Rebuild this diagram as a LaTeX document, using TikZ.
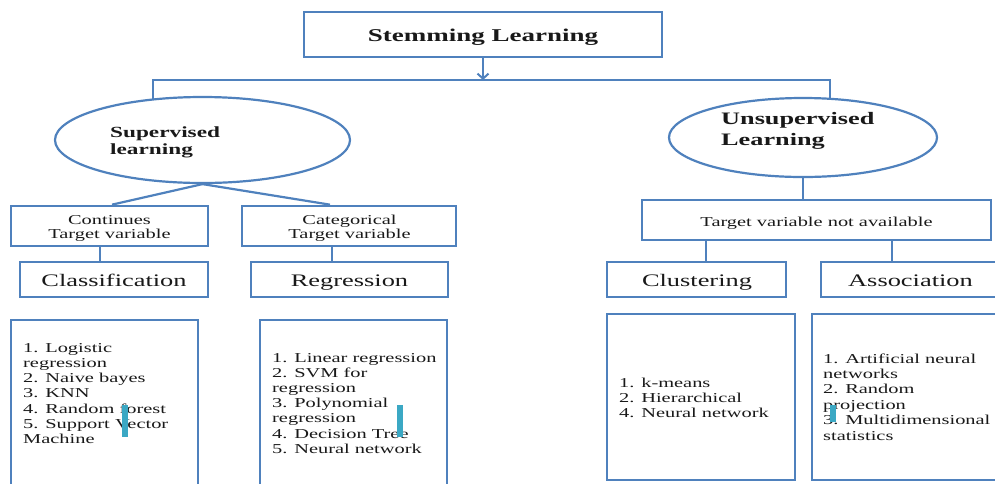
\documentclass[tikz,border=0pt]{standalone}
\usepackage{fontspec}
\setmainfont{Liberation Serif}[FakeStretch=1.5]
\usetikzlibrary{shapes.geometric,arrows.meta}
\definecolor{lineblue}{RGB}{79,129,189}
\definecolor{barteal}{RGB}{59,168,196}
\definecolor{txt}{RGB}{25,25,25}
\begin{document}
\begin{tikzpicture}[x=1pt,y=-1pt,
  box/.style={draw=lineblue,line width=2.7pt,fill=white,inner sep=0pt},
  oval/.style={draw=lineblue,line width=2.2pt,fill=white,ellipse,inner sep=0pt},
  conn/.style={draw=lineblue,line width=2.2pt},
  lbl/.style={inner sep=0pt,anchor=base,text=txt},
  lblw/.style={inner sep=0pt,anchor=base west,text=txt},
  headfont/.style={font=\fontsize{17.6}{20}\selectfont},
  smallfont/.style={font=\fontsize{13.6}{14.3}\selectfont}
]
\useasboundingbox (0,0) rectangle (995,483);
\clip (0,0) rectangle (995,483);

% boxes and ellipses
\node[box,minimum width=358pt,minimum height=45pt] (stem) at (483,34.5) {};
\node[oval,minimum width=295pt,minimum height=86pt] (sup) at (202.5,140) {};
\node[oval,minimum width=268pt,minimum height=79pt] (uns) at (803,137.5) {};
\node[box,minimum width=197pt,minimum height=40pt] (cont) at (109.5,226) {};
\node[box,minimum width=214pt,minimum height=40pt] (cat) at (349,226) {};
\node[box,minimum width=349pt,minimum height=40pt] (target) at (816.5,220) {};
\node[box,minimum width=188pt,minimum height=35pt] (class) at (114,279.5) {};
\node[box,minimum width=197pt,minimum height=35pt] (regr) at (349.5,279.5) {};
\node[box,minimum width=179pt,minimum height=35pt] (clus) at (696.5,279.5) {};
\node[box,minimum width=179pt,minimum height=35pt] (assoc) at (910.5,279.5) {};
\node[box,minimum width=187pt,minimum height=190pt] (list1) at (104.5,415) {};
\node[box,minimum width=187pt,minimum height=190pt] (list2) at (353.5,415) {};
\node[box,minimum width=188pt,minimum height=166pt] (list3) at (701,397) {};
\node[box,minimum width=198pt,minimum height=166pt] (list4) at (911,397) {};

% connectors
\coordinate (hl) at (483,80);
\coordinate (hlL) at (153,80);
\coordinate (hlR) at (830,80);
\coordinate (supTop) at (153,99.5);
\coordinate (unsTop) at (830,99);
\draw[conn,-{Straight Barb[length=5pt,width=11pt,line width=2pt]}] (stem.south) -- (hl);
\draw[conn] (supTop) -- (hlL) -- (hlR) -- (unsTop);
\draw[conn] ([xshift=2.5pt]cont.north) -- (sup.south) -- ([xshift=-19pt]cat.north);
\draw[conn] ([xshift=-9.5pt]cont.south) -- ([xshift=-9.5pt]cont.south |- class.north);
\draw[conn] ([xshift=-17pt]cat.south) -- ([xshift=-17pt]cat.south |- regr.north);
\draw[conn] (uns.south) -- (uns.south |- target.north);
\draw[conn] ([xshift=-110.5pt]target.south) -- ([xshift=-110.5pt]target.south |- clus.north);
\draw[conn] ([xshift=75.5pt]target.south) -- ([xshift=75.5pt]target.south |- assoc.north);

% texts
\node[lbl] (stemtxt) at (483,41.7) {\fontsize{18}{20}\selectfont\bfseries Stemming Learning};
\node[lblw] (suptxt) at (110,137) {\parbox[t]{200pt}{\raggedright\fontsize{15.5}{17.8}\selectfont\bfseries Supervised\\learning}};
\node[lblw] (unstxt) at (721,124) {\parbox[t]{200pt}{\raggedright\fontsize{17.5}{21}\selectfont\bfseries Unsupervised\\Learning}};
\node[lbl] (conttxt) at (109.5,224) {\parbox[t]{190pt}{\centering\fontsize{13.6}{14.3}\selectfont Continues\\Target variable}};
\node[lbl] (cattxt) at (349.5,224) {\parbox[t]{200pt}{\centering\fontsize{13.6}{14.3}\selectfont Categorical\\Target variable}};
\node[lbl,smallfont] (targettxt) at (816.5,226) {Target variable not available};
\node[lbl,headfont] (classtxt) at (114,286) {Classification};
\node[lbl,headfont] (regrtxt) at (349.5,286) {Regression};
\node[lbl,headfont] (clustxt) at (697,286) {Clustering};
\node[lbl,headfont] (assoctxt) at (910.5,286) {Association};
\node[lblw] (l1txt) at (23,352) {\parbox[t]{300pt}{\raggedright\fontsize{13.6}{15.3}\selectfont 1. Logistic\\regression\\2. Naive bayes\\3. KNN\\4. Random forest\\5. Support Vector\\Machine}};
\node[lblw] (l2txt) at (272,362) {\parbox[t]{300pt}{\raggedright\fontsize{13.6}{15.2}\selectfont 1. Linear regression\\2. SVM for\\regression\\3. Polynomial\\regression\\4. Decision Tree\\5. Neural network}};
\node[lblw] (l3txt) at (619,387) {\parbox[t]{300pt}{\raggedright\fontsize{13.6}{15.3}\selectfont 1. k-means\\2. Hierarchical\\4. Neural network}};
\node[lblw] (l4txt) at (823,363) {\parbox[t]{300pt}{\raggedright\fontsize{13.6}{15.4}\selectfont 1. Artificial neural\\networks\\2. Random\\projection\\3. Multidimensional\\statistics}};

% teal marks
\fill[barteal] (122,405) rectangle (128,437);
\fill[barteal] (397,405) rectangle (403,437);
\fill[barteal] (830,405) rectangle (836,422);
\end{tikzpicture}
\end{document}
